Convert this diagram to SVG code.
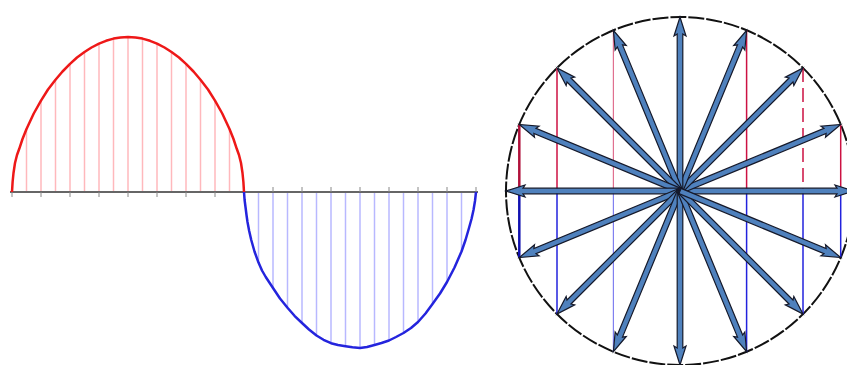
<svg xmlns="http://www.w3.org/2000/svg" xmlns:xlink="http://www.w3.org/1999/xlink" width="847" height="365" viewBox="0 0 847 365">
<defs>
<style>
.rl{stroke:#ffb8bc;stroke-width:1.5}
.bl{stroke:#b8b8ff;stroke-width:1.5}
.tick{stroke:#888;stroke-width:1}
.pr{stroke:#cc1142;stroke-width:1.5}
.pb{stroke:#2222dd;stroke-width:1.5}
.arrow{fill:#4f81bd;stroke:#15192a;stroke-width:1.2;stroke-linejoin:miter}
</style>
<path id="arr" class="arrow" d="M0,-2.8 L157,-2.8 L155,-6 L174,0 L155,6 L157,2.8 L0,2.8 Z"/>
</defs>
<rect width="847" height="365" fill="#fff"/>
<g id="sine-wave">
<g id="red-lines">
<line class="rl" x1="26.5" y1="192" x2="26.5" y2="129"/>
<line class="rl" x1="41" y1="192" x2="41" y2="100.6"/>
<line class="rl" x1="55.5" y1="192" x2="55.5" y2="79.8"/>
<line class="rl" x1="70" y1="192" x2="70" y2="63.9"/>
<line class="rl" x1="84.5" y1="192" x2="84.5" y2="52"/>
<line class="rl" x1="99" y1="192" x2="99" y2="43.6"/>
<line class="rl" x1="113.5" y1="192" x2="113.5" y2="38.6"/>
<line class="rl" x1="128" y1="192" x2="128" y2="37"/>
<line class="rl" x1="142.5" y1="192" x2="142.5" y2="38.6"/>
<line class="rl" x1="157" y1="192" x2="157" y2="43.6"/>
<line class="rl" x1="171.5" y1="192" x2="171.5" y2="52"/>
<line class="rl" x1="186" y1="192" x2="186" y2="63.9"/>
<line class="rl" x1="200.5" y1="192" x2="200.5" y2="79.8"/>
<line class="rl" x1="215" y1="192" x2="215" y2="100.6"/>
<line class="rl" x1="229.5" y1="192" x2="229.5" y2="129"/>
</g>
<g id="blue-lines">
<line class="bl" x1="258.5" y1="192" x2="258.5" y2="262.6"/>
<line class="bl" x1="273" y1="192" x2="273" y2="288"/>
<line class="bl" x1="287.5" y1="192" x2="287.5" y2="307.7"/>
<line class="bl" x1="302" y1="192" x2="302" y2="323"/>
<line class="bl" x1="316.5" y1="192" x2="316.5" y2="335.5"/>
<line class="bl" x1="331" y1="192" x2="331" y2="343.2"/>
<line class="bl" x1="345.5" y1="192" x2="345.5" y2="346.2"/>
<line class="bl" x1="360" y1="192" x2="360" y2="348"/>
<line class="bl" x1="374.5" y1="192" x2="374.5" y2="345"/>
<line class="bl" x1="389" y1="192" x2="389" y2="340.5"/>
<line class="bl" x1="403.5" y1="192" x2="403.5" y2="333"/>
<line class="bl" x1="418" y1="192" x2="418" y2="322"/>
<line class="bl" x1="432.5" y1="192" x2="432.5" y2="304"/>
<line class="bl" x1="447" y1="192" x2="447" y2="282"/>
<line class="bl" x1="461.5" y1="192" x2="461.5" y2="251.5"/>
</g>
<g id="axis">
<line x1="10" y1="192" x2="478" y2="192" stroke="#666" stroke-width="2"/>
<line class="tick" x1="12" y1="192" x2="12" y2="197"/>
<line class="tick" x1="41" y1="192" x2="41" y2="197"/>
<line class="tick" x1="70" y1="192" x2="70" y2="197"/>
<line class="tick" x1="99" y1="192" x2="99" y2="197"/>
<line class="tick" x1="128" y1="192" x2="128" y2="197"/>
<line class="tick" x1="157" y1="192" x2="157" y2="197"/>
<line class="tick" x1="186" y1="192" x2="186" y2="197"/>
<line class="tick" x1="215" y1="192" x2="215" y2="197"/>
<line class="tick" x1="273" y1="192" x2="273" y2="187"/>
<line class="tick" x1="302" y1="192" x2="302" y2="187"/>
<line class="tick" x1="331" y1="192" x2="331" y2="187"/>
<line class="tick" x1="360" y1="192" x2="360" y2="187"/>
<line class="tick" x1="389" y1="192" x2="389" y2="187"/>
<line class="tick" x1="418" y1="192" x2="418" y2="187"/>
<line class="tick" x1="447" y1="192" x2="447" y2="187"/>
<line class="tick" x1="476" y1="192" x2="476" y2="187"/>
</g>
<polyline id="red-half" fill="none" stroke="#ee1818" stroke-width="2.5" stroke-linejoin="round" points="12,192 12.6,182 13.5,173 15,163 17,155 19.25,148.8 22.5,139 26.5,129 33.75,113.5 41,100.6 48,89.5 55.5,79.8 62.5,71.5 70,63.9 77,57.5 84.5,52 91.5,47.5 99,43.6 106,40.8 113.5,38.6 120.5,37.4 128,37 135.5,37.4 142.5,38.6 150,40.8 157,43.6 164.5,47.5 171.5,52 179,57.5 186,63.9 193.5,71.5 200.5,79.8 208,89.5 215,100.6 222.25,113.5 229.5,129 233.5,139 236.75,148.8 239,155 241,163 242.5,173 243.4,182 244,192"/>
<polyline id="blue-half" fill="none" stroke="#2424dd" stroke-width="2.5" stroke-linejoin="round" points="244,192 244.6,200 245.5,207 246.5,215 247.5,222 249.2,231 251.25,240 254.5,251.5 258.5,262.6 262,270.5 265.75,277 273,288 280,298.5 287.5,307.7 294.5,315.8 302,323 309,329.5 316.5,335.5 323.5,339.8 331,343.2 338,345 345.5,346.2 352.5,347.3 360,348 367,347 374.5,345 381.5,343 389,340.5 396,337 403.5,333 411,328 418,322 425.5,313.5 432.5,304 440,293.5 447,282 454.5,267.5 461.5,251.5 465.5,240 469,228 471.5,219 473.5,210 475,201 476,192"/>
</g>
<g id="phasor-diagram">
<circle cx="680" cy="191" r="174" fill="none" stroke="#111" stroke-width="2" stroke-dasharray="16 2"/>
<g id="projections">
<line x1="519.3" y1="124.4" x2="519.3" y2="191" stroke="#b0103a" stroke-width="2.5"/>
<line class="pr" x1="557" y1="68" x2="557" y2="191"/>
<line x1="613.4" y1="30.3" x2="613.4" y2="191" stroke="#e07090" stroke-width="1.2"/>
<line class="pr" x1="746.6" y1="30.3" x2="746.6" y2="191"/>
<line class="pr" x1="803" y1="68" x2="803" y2="191" stroke-dasharray="14 6"/>
<line class="pr" x1="840.7" y1="124.4" x2="840.7" y2="191"/>
<line x1="519.3" y1="191" x2="519.3" y2="257.6" stroke="#1010b0" stroke-width="2.5"/>
<line class="pb" x1="557" y1="191" x2="557" y2="314"/>
<line x1="613.4" y1="191" x2="613.4" y2="351.7" stroke="#8080f0" stroke-width="1.2"/>
<line class="pb" x1="746.6" y1="191" x2="746.6" y2="351.7"/>
<line class="pb" x1="803" y1="191" x2="803" y2="314"/>
<line class="pb" x1="840.7" y1="191" x2="840.7" y2="257.6"/>
</g>
<g id="phasors">
<use xlink:href="#arr" transform="translate(680,191) rotate(0)"/>
<use xlink:href="#arr" transform="translate(680,191) rotate(-22.5)"/>
<use xlink:href="#arr" transform="translate(680,191) rotate(-45)"/>
<use xlink:href="#arr" transform="translate(680,191) rotate(-67.5)"/>
<use xlink:href="#arr" transform="translate(680,191) rotate(-90)"/>
<use xlink:href="#arr" transform="translate(680,191) rotate(-112.5)"/>
<use xlink:href="#arr" transform="translate(680,191) rotate(-135)"/>
<use xlink:href="#arr" transform="translate(680,191) rotate(-157.5)"/>
<use xlink:href="#arr" transform="translate(680,191) rotate(180)"/>
<use xlink:href="#arr" transform="translate(680,191) rotate(157.5)"/>
<use xlink:href="#arr" transform="translate(680,191) rotate(135)"/>
<use xlink:href="#arr" transform="translate(680,191) rotate(112.5)"/>
<use xlink:href="#arr" transform="translate(680,191) rotate(90)"/>
<use xlink:href="#arr" transform="translate(680,191) rotate(67.5)"/>
<use xlink:href="#arr" transform="translate(680,191) rotate(45)"/>
<use xlink:href="#arr" transform="translate(680,191) rotate(22.5)"/>
</g>
</g>
</svg>
